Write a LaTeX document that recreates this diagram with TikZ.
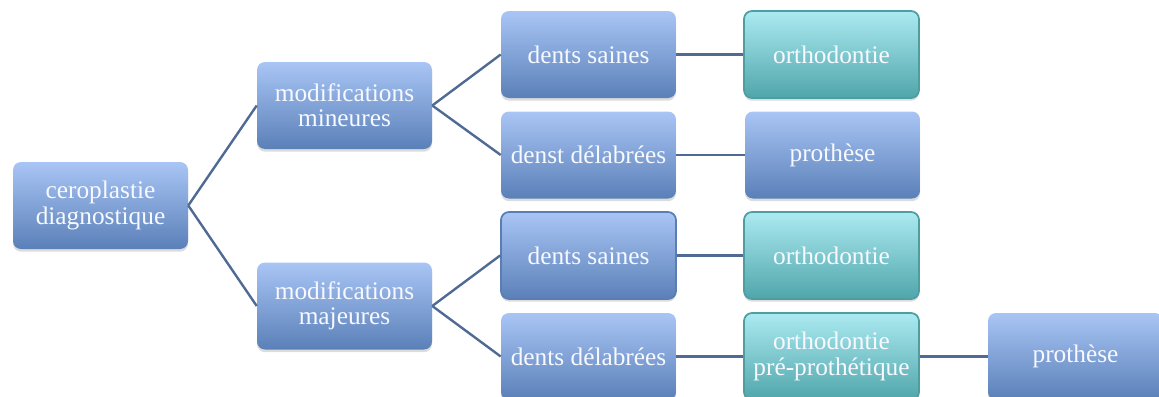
\documentclass[tikz,border=0pt]{standalone}
\usepackage{fontspec}
\setmainfont{Liberation Serif}
\usetikzlibrary{shadows}
\definecolor{btop}{HTML}{A9C5F5}
\definecolor{bbot}{HTML}{5A80B8}
\definecolor{ttop}{HTML}{ACEAF1}
\definecolor{tbot}{HTML}{4FA6AB}
\definecolor{tborder}{HTML}{4E9DA3}
\definecolor{bborder}{HTML}{5A7DB3}
\definecolor{linec}{HTML}{4F6A94}
\definecolor{txt}{HTML}{F7F9FF}
\tikzset{
  box/.style={rounded corners=6pt, minimum width=131.25pt, minimum height=65.25pt,
    top color=btop, bottom color=bbot, text=txt, align=center, inner sep=2pt,
    font=\fontsize{19}{19}\selectfont,
    drop shadow={opacity=0.28, shadow xshift=0pt, shadow yshift=-2pt}},
  tbox/.style={box, top color=ttop, bottom color=tbot, draw=tborder, line width=1.3pt, minimum width=131.25pt},
  bbox/.style={box, draw=bborder, line width=1.3pt},
  conn/.style={draw=linec, line width=1.8pt}
}
\begin{document}
\begin{tikzpicture}[x=0.75pt, y=-0.75pt]
\useasboundingbox (0,0) rectangle (1159,396);
\begin{scope}
\clip (0,0) rectangle (1159,396);
\node[box] (c) at (100.5,205.5) {ceroplastie\\diagnostique};
\node[box] (mi) at (344.5,105.5) {modifications\\mineures};
\node[box] (ma) at (344.5,306) {modifications\\majeures};
\node[box] (ds1) at (588.5,54.5) {dents saines};
\node[box] (dd1) at (588.5,155) {denst délabrées};
\node[tbox] (o1) at (831.5,54.5) {orthodontie};
\node[box] (p1) at (832.5,155) {prothèse};
\node[bbox] (ds2) at (588.5,255.5) {dents saines};
\node[tbox] (o2) at (831.5,255.5) {orthodontie};
\node[box] (dd2) at (588.5,356.5) {dents délabrées};
\node[tbox] (o3) at (831.5,356.5) {orthodontie\\pré-prothétique};
\node[box] (p2) at (1075.5,356.5) {prothèse};
\draw[conn] (c.east) -- (mi.west);
\draw[conn] (c.east) -- (ma.west);
\draw[conn] (mi.east) -- (ds1.west);
\draw[conn] (mi.east) -- (dd1.west);
\draw[conn] (ma.east) -- (ds2.west);
\draw[conn] (ma.east) -- (dd2.west);
\draw[conn] (ds1.east) -- (o1.west);
\draw[conn] (dd1.east) -- (p1.west);
\draw[conn] (ds2.east) -- (o2.west);
\draw[conn] (dd2.east) -- (o3.west);
\draw[conn] (o3.east) -- (p2.west);
\end{scope}
\end{tikzpicture}
\end{document}
